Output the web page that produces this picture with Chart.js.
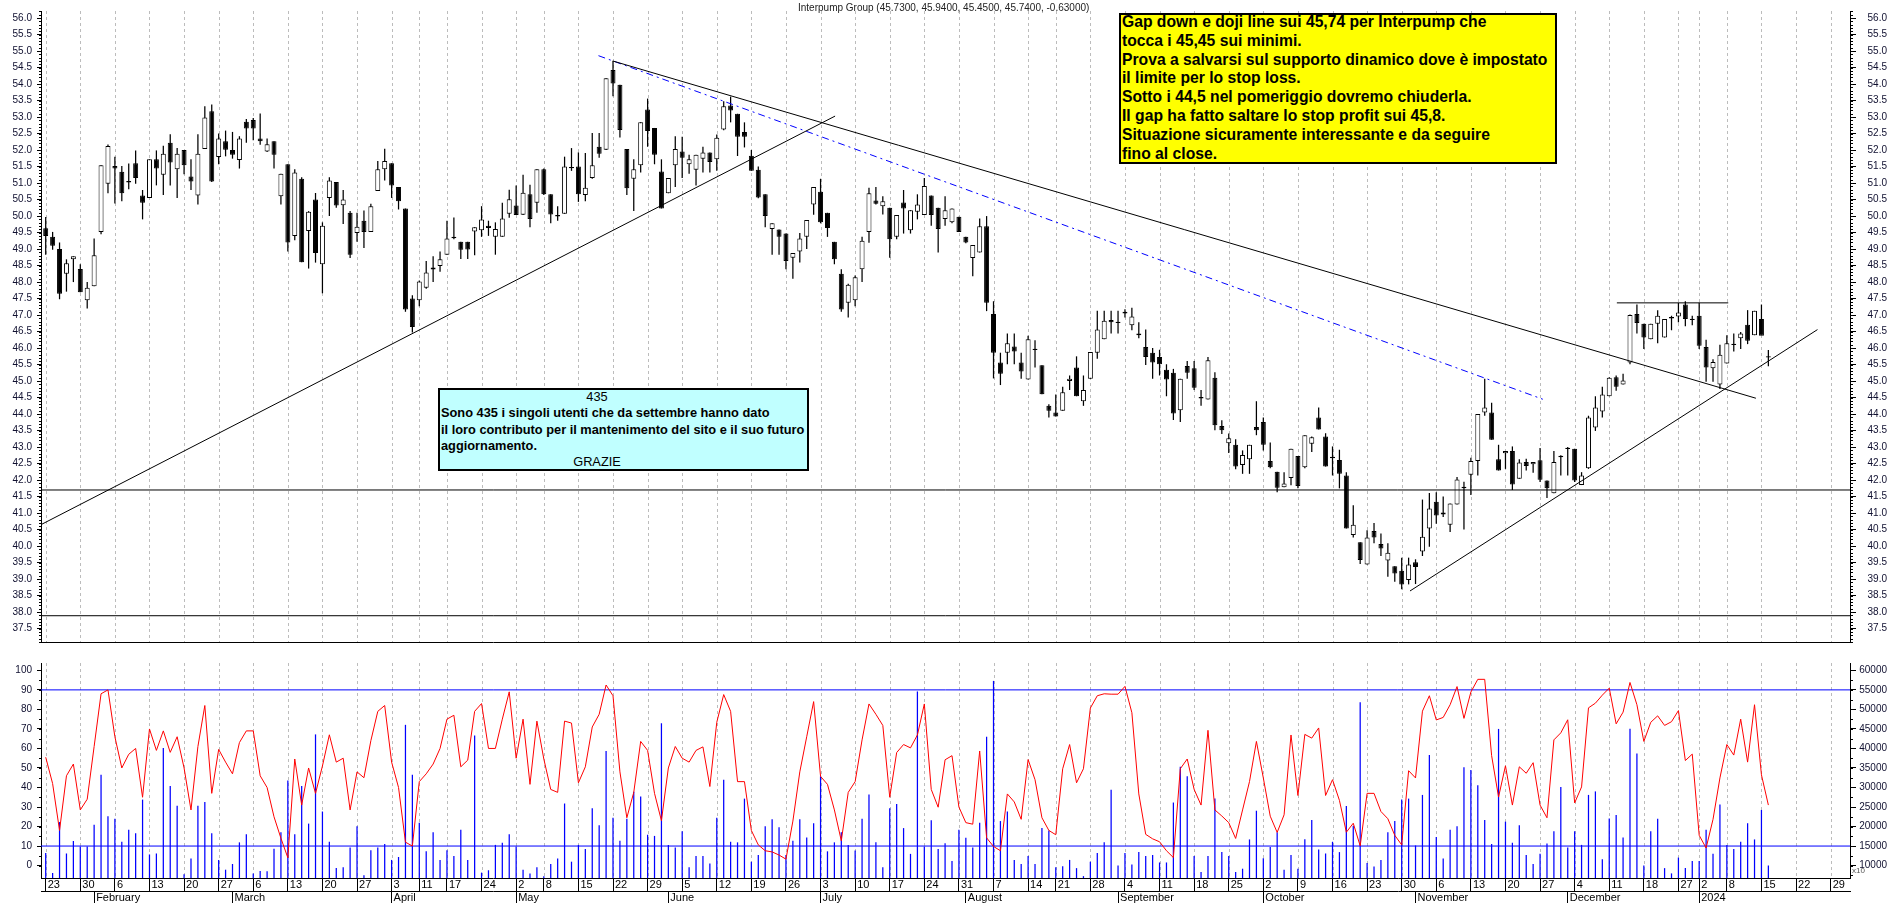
<!DOCTYPE html>
<html>
<head>
<meta charset="utf-8">
<script src="https://cdn.jsdelivr.net/npm/chart.js@4.4.1/dist/chart.umd.min.js"></script>
<style>
html,body{margin:0;padding:0;background:#fff;}
#wrap{position:relative;width:1890px;height:903px;overflow:hidden;background:#fff;font-family:"Liberation Sans",Arial,sans-serif;}
#cA{position:absolute;left:0;top:0;}
#cB{position:absolute;left:0;top:652px;}
#title{position:absolute;left:798px;top:2px;font-size:10px;line-height:12px;color:#222;white-space:nowrap;}
#yellow{position:absolute;left:1119px;top:13px;width:438px;height:151px;box-sizing:border-box;border:2px solid #000;background:#ffff00;overflow:hidden;}
#yellow div{position:relative;top:-2px;padding-left:1px;font-weight:bold;font-size:15.7px;line-height:18.8px;color:#000;white-space:nowrap;}
#cyan{position:absolute;left:438px;top:388px;width:371px;height:83px;box-sizing:border-box;border:2px solid #000;background:#c0ffff;overflow:hidden;}
#cyan .t{position:relative;top:-1px;padding-left:1px;font-size:12.8px;line-height:16.3px;color:#000;white-space:nowrap;}
#cyan .b{font-weight:bold;}
#cyan .c{width:312px;text-align:center;}
#x10{position:absolute;left:1852px;top:866px;font-size:8px;line-height:10px;color:#555;}
</style>
</head>
<body>
<div id="wrap">
<canvas id="cA" width="1890" height="653"></canvas>
<canvas id="cB" width="1890" height="251"></canvas>
<div id="title">Interpump Group (45.7300, 45.9400, 45.4500, 45.7400, -0.63000)</div>
<div id="yellow"><div>Gap down e doji line sui 45,74 per Interpump che<br>tocca i 45,45 sui minimi.<br>Prova a salvarsi sul supporto dinamico dove è impostato<br>il limite per lo stop loss.<br>Sotto i 44,5 nel pomeriggio dovremo chiuderla.<br>Il gap ha fatto saltare lo stop profit sui 45,8.<br>Situazione sicuramente interessante e da seguire<br>fino al close.</div></div>
<div id="cyan"><div class="t"><div class="c">435</div><div class="b">Sono 435 i singoli utenti che da settembre hanno dato</div><div class="b">il loro contributo per il mantenimento del sito e il suo futuro</div><div class="b">aggiornamento.</div><div class="c">GRAZIE</div></div></div>
<div id="x10">x10</div>
</div>
<script>
// ---------------- DATA ----------------
// trading-day index 0 = 23 Jan 2023 ... 249 = 16 Jan 2024
const weekStartIdx = [0,5,10,15,20,25,30,35,40,45,50,54,58,63,68,72,77,82,87,92,97,102,107,112,117,122,127,132,137,142,146,151,156,161,166,171,176,181,186,191,196,201,206,211,216,221,226,231,236,239,243,248,253,258];
const weekLabels = ['23','30','6','13','20','27','6','13','20','27','3','11','17','24','2','8','15','22','29','5','12','19','26','3','10','17','24','31','7','14','21','28','4','11','18','25','2','9','16','23','30','6','13','20','27','4','11','18','27','2','8','15','22','29'];
const monthStartIdx = [7,27,50,68,90,112,133,155,176,198,220,239];
const monthLabels = ['February','March','April','May','June','July','August','September','October','November','December','2024'];

const open = [
49.63,49.37,49.00,48.25,48.69,48.40,47.45,47.87,49.52,50.98,
51.52,51.34,51.03,51.60,50.62,50.55,51.72,51.25,52.22,51.42,
52.00,51.20,50.62,52.03,53.18,51.79,52.27,52.00,51.70,52.86,
52.91,52.35,51.96,52.27,50.60,51.57,49.40,51.13,49.55,50.50,
48.54,50.55,51.03,50.33,50.10,49.49,49.86,49.52,50.76,51.42,
51.60,50.88,50.23,47.50,47.45,47.83,48.38,48.49,48.83,49.35,
49.22,49.22,49.53,49.57,49.71,49.37,49.37,50.07,50.32,50.04,
50.66,50.40,51.42,50.66,50.02,50.07,51.47,51.50,50.64,51.15,
52.10,52.01,54.43,53.98,52.03,51.13,51.54,53.23,52.67,51.35,
50.69,51.54,51.96,51.57,51.40,51.74,51.93,51.72,52.62,53.35,
53.10,52.55,51.83,51.40,50.66,49.61,49.59,49.47,48.74,48.93,
49.37,50.35,50.74,50.10,49.22,48.25,47.37,47.45,48.39,49.52,
50.47,50.30,50.25,49.37,50.41,49.57,50.13,50.03,50.62,50.25,
49.91,49.81,49.98,49.37,48.73,48.90,49.69,47.03,45.56,45.86,
46.05,45.56,45.05,45.95,45.48,44.25,44.05,44.10,45.00,45.41,
44.39,45.07,45.86,46.27,46.85,46.80,47.05,46.69,46.39,46.03,
45.86,45.73,45.34,45.25,44.12,45.46,45.39,44.49,44.44,45.10,
43.64,43.12,43.07,42.46,42.63,43.61,43.76,42.58,42.25,41.78,
42.06,42.73,42.39,43.10,43.90,43.32,42.70,42.61,42.14,40.34,
40.12,39.44,40.46,40.06,39.56,39.39,39.25,38.97,39.51,39.84,
40.53,41.34,41.02,40.65,41.26,41.75,42.16,42.58,44.05,44.05,
42.63,42.81,42.88,42.04,42.55,42.48,42.60,41.99,41.60,42.70,
42.95,42.95,41.85,42.36,43.59,44.08,44.54,45.12,44.90,45.56,
47.03,46.74,46.27,46.74,46.32,46.91,46.96,47.32,46.88,46.98,
46.03,45.39,44.90,45.53,46.10,46.30,46.71,46.39,46.88,45.73];

const high = [
49.97,49.52,49.20,48.69,48.78,48.54,48.00,49.32,51.54,52.17,
51.80,51.52,51.59,51.99,50.79,51.72,51.99,52.13,52.48,52.06,
52.00,51.72,52.48,53.33,53.38,52.50,52.59,52.55,52.42,52.94,
52.97,53.11,52.35,52.27,51.28,51.57,51.42,51.18,50.15,50.70,
49.81,51.18,51.03,50.79,50.15,50.10,50.17,50.37,51.67,52.04,
51.60,50.88,50.23,47.60,48.05,48.64,48.78,48.93,49.86,49.96,
49.22,49.22,49.66,50.30,49.86,49.81,50.40,50.80,50.93,51.25,
50.95,51.42,51.44,50.66,50.30,51.80,52.06,51.93,51.91,52.52,
52.52,54.18,54.70,53.98,52.03,51.72,52.84,53.56,52.67,51.72,
51.15,52.42,52.40,51.86,51.86,52.10,51.93,52.47,53.48,53.62,
53.10,52.84,52.00,51.50,50.66,49.78,49.59,49.47,48.88,49.49,
49.88,50.88,51.13,50.10,49.22,48.39,47.95,48.20,49.37,50.86,
50.88,50.60,50.25,50.03,50.79,50.18,50.66,51.15,50.62,50.25,
50.60,50.23,49.98,49.37,49.12,49.93,50.00,47.42,45.86,46.44,
46.44,45.86,46.37,46.24,45.48,44.30,44.59,44.83,45.17,45.75,
45.17,45.88,47.13,47.13,47.13,47.13,47.18,47.22,46.78,46.56,
46.00,45.95,45.51,45.37,45.07,45.61,45.61,44.73,45.73,45.27,
43.81,43.41,43.24,42.90,43.07,44.39,43.90,43.14,42.25,42.24,
42.95,42.73,43.36,43.32,44.20,43.42,43.02,42.92,42.24,41.24,
40.12,40.48,40.70,40.38,40.09,39.39,39.65,39.65,39.60,41.41,
41.61,41.63,41.50,41.29,42.09,41.95,42.68,44.00,45.07,44.34,
43.07,42.88,43.02,42.63,42.65,42.55,42.97,41.99,42.88,42.75,
43.00,42.95,42.24,43.95,44.54,44.83,45.12,45.17,45.22,47.02,
47.32,46.74,46.74,47.15,46.88,46.98,47.37,47.42,46.98,47.37,
46.25,45.66,46.10,46.39,46.44,46.49,47.15,47.13,47.32,45.94];

const low = [
48.83,48.98,47.48,47.71,48.00,47.69,47.20,47.87,49.45,50.69,
50.38,50.45,50.81,50.98,49.90,50.55,50.93,50.64,50.93,50.55,
51.27,50.79,50.35,52.03,51.03,51.57,51.81,51.74,51.44,52.22,
52.30,52.16,51.94,51.44,50.35,48.93,49.27,48.60,48.41,48.59,
47.66,50.00,50.25,49.76,48.73,49.22,49.03,49.52,50.76,51.08,
50.55,50.20,47.10,46.47,47.27,47.80,48.00,48.31,48.83,49.30,
48.70,48.70,48.81,49.37,49.40,48.83,49.37,49.95,50.03,50.03,
49.66,50.10,50.64,49.78,49.86,50.07,51.37,50.43,50.45,51.13,
51.77,52.00,53.63,52.38,50.64,50.15,51.32,52.10,51.57,50.23,
50.69,50.88,51.15,51.28,50.93,51.32,51.32,51.37,52.60,52.84,
51.82,52.08,51.37,50.54,49.66,48.83,48.83,48.39,48.10,48.59,
49.00,50.04,49.78,49.37,48.54,47.10,46.93,47.27,48.00,49.19,
50.35,50.05,48.74,49.30,49.47,49.47,49.90,50.03,49.71,48.90,
49.71,49.78,49.52,49.18,48.18,48.90,47.12,45.08,44.88,45.51,
45.51,45.07,45.05,45.41,44.60,43.90,43.93,44.10,44.73,44.54,
44.25,45.07,45.68,46.27,46.44,46.44,46.93,46.54,46.30,45.49,
45.07,45.17,44.54,43.82,43.76,45.07,44.73,44.25,44.44,43.51,
43.40,42.82,42.33,42.19,42.19,43.36,42.90,42.36,41.63,41.78,
41.84,41.75,42.36,42.85,43.53,42.41,42.14,41.75,40.53,40.26,
39.46,39.44,40.09,39.70,39.07,38.92,38.69,38.84,38.85,39.70,
39.98,40.68,40.88,40.43,41.26,40.50,41.55,42.14,43.95,43.22,
42.29,42.34,41.70,42.04,42.29,42.22,41.94,41.46,41.60,42.14,
42.14,41.94,41.85,42.34,43.49,43.90,44.54,44.71,44.90,45.51,
46.44,45.97,46.27,46.15,46.32,46.54,46.78,46.66,46.69,45.97,
44.98,44.98,44.76,45.53,45.90,45.97,46.12,46.39,46.41,45.45];

const close = [
49.40,49.10,47.65,48.57,48.78,47.69,47.83,48.81,51.54,52.12,
51.44,50.69,51.05,51.15,50.40,51.72,51.44,51.89,51.62,51.89,
51.54,51.05,51.89,52.99,51.05,52.35,52.01,51.86,52.35,52.65,
52.65,52.27,52.18,51.86,51.28,49.20,51.32,48.60,50.13,48.88,
49.71,51.08,50.32,50.50,48.83,49.68,49.52,50.30,51.42,51.67,
50.93,50.45,47.17,46.64,48.02,48.29,48.44,48.69,49.32,49.35,
48.98,48.99,49.66,49.90,49.64,49.61,49.93,50.51,50.03,50.71,
49.91,51.42,50.66,50.05,50.00,51.50,51.47,50.66,50.86,51.54,
51.89,54.18,54.02,52.61,50.84,51.42,52.84,52.58,51.86,50.23,
51.15,52.03,51.77,51.72,51.86,51.93,51.64,52.37,53.33,53.20,
52.40,52.40,51.37,50.56,50.00,49.78,49.37,48.64,48.88,49.32,
49.88,50.88,49.81,49.64,48.69,47.17,47.92,48.15,49.25,50.69,
50.37,50.45,49.30,50.03,50.23,50.18,50.35,50.91,50.03,49.61,
50.18,50.23,49.52,49.20,49.12,49.69,47.37,45.86,45.22,46.15,
45.90,45.29,46.27,45.97,44.60,44.10,43.93,44.66,45.07,44.54,
44.73,45.88,46.56,46.83,46.78,46.76,47.10,46.96,46.44,45.73,
45.56,45.51,45.05,44.02,45.07,45.25,44.80,44.50,45.63,43.66,
43.51,43.27,42.41,42.76,43.07,43.51,43.07,42.39,41.77,41.90,
42.95,41.82,43.36,43.30,43.53,42.41,42.67,42.19,40.53,40.65,
39.58,40.26,40.26,39.93,39.80,39.17,38.84,39.44,39.37,40.28,
41.14,40.93,40.96,41.29,42.02,41.80,42.58,44.00,44.20,43.22,
42.29,42.88,41.87,42.53,42.43,42.55,42.01,41.75,42.55,42.73,
42.97,41.99,42.14,43.90,44.20,44.59,45.10,44.83,45.02,47.00,
46.76,46.32,46.74,46.98,46.88,46.93,47.08,46.88,46.86,46.07,
45.41,45.58,45.80,46.15,46.12,46.44,46.22,47.13,46.37,45.74];

const oscillator = [
55.5,42,18,46,52,28.5,34,61,88,90,
66,50,57,60,35,70,59,69,58,66,
50,28.5,61,82,37,59.5,53,47,63,69,
69,46,40,25,14,4,54.6,31,50,37,
51,67,53,55,28.5,48,45,64,79,82,
53,40,12,10,43,47,52,60,75,77,
50.6,54,79,83,60,60,75,89,55,75,
41.6,74,54.6,39,37.5,74,73,42.4,50.6,71,
77.5,92.5,87,48,24.5,37.5,63.6,59,37,23,
50,61,55,53,59,60.8,40.5,73.4,87.6,79,
43,43,18,10.6,7.6,7,5.4,3.3,22.8,48,
66,84,45.7,41.6,28.5,12.7,37.5,43,64.4,82.8,
77.5,71.8,35,57.9,62,60.3,66.9,82.8,39,29.9,
54.2,56.3,30,22,21.2,58.7,14.2,9.8,7.6,36.7,
32.6,23.7,54.3,44,24.5,18,15.8,49.6,62,42.4,
49.6,80.7,87,88,87.8,87.8,91.8,78.3,36.7,16,
13.7,12.2,7.6,4.1,49.6,54.6,39,31,69.3,28.5,
25.4,22,13.9,28.5,43,63.6,44.9,25.3,17,26,
66.9,35.9,67.2,65.3,70.5,35.9,44,33.4,17.1,21.7,
10.1,37,37,27.7,24,15.5,10.6,48.6,44.9,79.1,
87,74.6,75.9,82.4,91.7,75.4,88.9,95.4,95.4,56.3,
35.1,51.1,31,50.6,47.3,52.7,31,24.5,64.4,68,
74.7,32.1,40.3,80.8,83.2,87.3,90.9,72.6,78.6,93.8,
82.4,63.6,73.4,76.7,71.8,73.7,79.4,53.8,57.1,15.5,
9,23.7,44.9,62,56.6,75,53,82.4,46.5,31];

const volume = [
13250,8100,21150,13100,16300,14900,14900,20450,33250,22650,
22000,16100,19200,18300,26900,12850,13100,40100,30400,25350,
7800,11800,25350,26300,18300,11400,8950,10400,15950,18000,
7950,8600,8550,14300,18550,31800,18000,30400,20750,43600,
23850,16100,9350,9600,14650,20050,7550,13900,14650,15550,
11450,12200,46050,33250,21000,13650,18550,11450,13900,12450,
19200,11450,43300,8200,8800,15300,15850,18000,14900,8950,
7950,9600,7300,10400,11800,25900,11000,15300,14250,24700,
20350,39350,22250,16350,22000,28900,27700,17900,17600,46450,
15300,14650,18800,9600,12450,12450,10550,22250,32000,16100,
15950,27150,11000,12700,20050,21850,19800,12700,16350,21850,
17200,20850,32850,13650,15950,18550,15300,13850,22000,28200,
15950,9600,24700,25750,19600,13000,54600,14900,21600,14250,
15700,11200,19150,17100,14650,21000,43000,57300,21400,23850,
11450,10400,12450,10400,19600,19000,9600,9850,11450,9350,
7300,11000,13250,15950,29400,10000,13250,10250,13450,12450,
12700,10800,10800,26150,35300,32850,12450,8350,12450,27150,
13500,12450,8350,9200,16700,24050,11900,14750,18550,8950,
12700,9200,16750,21650,14100,13100,16100,13450,25250,20200,
51850,10650,9750,11450,18550,21400,26900,27150,15150,28100,
38300,17350,11800,19200,20050,35200,34450,30550,21650,15550,
45000,21250,15850,20300,12700,10400,13000,15650,18800,30150,
14650,18800,15300,28100,29000,11650,22050,22950,17200,45050,
38700,10000,18800,22000,9350,8000,12050,9350,11200,11200,
19150,13000,25650,15300,14250,16100,20850,16700,24250,10000];

// tick labels
const priceTicks = []; for (let k = 75; k <= 112; k++) priceTicks.push(k / 2);   // 37.5 .. 56.0
const oscTicks = [0,10,20,30,40,50,60,70,80,90,100];
const volTicks = [10000,15000,20000,25000,30000,35000,40000,45000,50000,55000,60000];

// drawn studies: [index, price] end points
const supportLine1   = [[-0.68, 40.65], [114.1, 53.03]];
const resistanceLine = [[81.96, 54.70], [247.2, 44.48]];
const blueTrendLine  = [[79.9, 54.86], [216.4, 44.45]];
const supportLine2   = [[197.2, 38.64], [256.1, 46.56]];
const topLine        = [[227.1, 47.37], [243.2, 47.37]];
const priceLevels    = [41.70, 37.89];
const oscLevels      = [90, 10];

// ---------------- CHARTS ----------------
Chart.defaults.font.family = '"Liberation Sans", Arial, sans-serif';
const X_MIN = -0.68, X_MAX = 260.8;
const pts = arr => arr.map(p => ({x: p[0], y: p[1]}));
const full = v => [{x: X_MIN, y: v}, {x: X_MAX, y: v}];

const weekGrid = {
  id: 'weekGrid',
  beforeDatasetsDraw(chart) {
    const {ctx, chartArea: a} = chart; const x = chart.scales.x;
    ctx.save();
    ctx.strokeStyle = '#bcbcbc'; ctx.lineWidth = 1; ctx.setLineDash([3, 3]);
    weekStartIdx.forEach(i => {
      const px = Math.round(x.getPixelForValue(i)) + 0.5;
      if (px < a.left || px > a.right) return;
      ctx.beginPath(); ctx.moveTo(px, a.top); ctx.lineTo(px, a.bottom); ctx.stroke();
    });
    ctx.restore();
  }
};
const axisDecor = {
  id: 'axisDecor',
  afterDraw(chart, args, opts) {
    const {ctx, chartArea: a} = chart;
    ctx.save(); ctx.strokeStyle = '#000'; ctx.lineWidth = 1; ctx.setLineDash([]);
    (opts.minor || []).forEach(m => {
      const s = chart.scales[m.id];
      for (let k = m.from; k <= m.to; k++) {
        const y = Math.round(s.getPixelForValue(k * m.step)) + 0.5;
        if (y < a.top || y > a.bottom + 1) continue;
        ctx.beginPath();
        if (m.side === 'left') { ctx.moveTo(s.right - m.len, y); ctx.lineTo(s.right, y); }
        else { ctx.moveTo(s.left, y); ctx.lineTo(s.left + m.len, y); }
        ctx.stroke();
      }
    });
    if (opts.bottomLine) {
      const y = a.bottom + 0.5;
      ctx.beginPath(); ctx.moveTo(a.left, y); ctx.lineTo(a.right + 1, y); ctx.stroke();
    }
    ctx.restore();
  }
};

const yAxisCommon = (pos, min, max, ticks, fmt, width, tl) => ({
  position: pos, min: min, max: max,
  afterBuildTicks: s => { s.ticks = ticks.map(v => ({value: v})); },
  afterFit: s => { s.width = width; },
  grid: {drawOnChartArea: false, drawTicks: true, tickLength: tl, color: '#000'},
  border: {display: true, color: '#000', width: 1},
  ticks: {autoSkip: false, padding: pos === 'left' ? 5 : 4, crossAlign: pos === 'left' ? 'near' : 'far',
          color: '#101030', font: {size: 10}, callback: fmt}
});

// bodies / wicks
const bodyData = open.map((o, i) => {
  let lo = Math.min(o, close[i]), hi = Math.max(o, close[i]);
  if (hi - lo < 0.04) { const m = (hi + lo) / 2; lo = m - 0.02; hi = m + 0.02; }
  return {x: i, y: [lo, hi]};
});
const wickData = high.map((h, i) => ({x: i, y: [low[i], h]}));

const lineDs = (data, color, dash) => ({
  type: 'line', data: data, borderColor: color, borderWidth: 1, borderDash: dash || [],
  pointRadius: 0, fill: false, tension: 0, order: -1, yAxisID: 'y'
});

new Chart(document.getElementById('cA'), {
  type: 'bar',
  data: {
    datasets: [
      {data: bodyData, order: 0, grouped: false, barThickness: 5, borderWidth: 1, borderColor: '#000',
       borderSkipped: false, inflateAmount: 0,
       backgroundColor: c => (close[c.dataIndex] >= open[c.dataIndex] ? '#ffffff' : '#000000'), yAxisID: 'y'},
      {data: wickData, order: 1, grouped: false, barThickness: 1.25, borderWidth: 0, inflateAmount: 0,
       backgroundColor: '#000000', yAxisID: 'y'},
      lineDs(pts(supportLine1), '#000'),
      lineDs(pts(resistanceLine), '#000'),
      lineDs(pts(blueTrendLine), '#0000ff', [7, 4, 2, 4]),
      lineDs(pts(supportLine2), '#000'),
      lineDs(pts(topLine), '#000'),
      lineDs(full(priceLevels[0]), '#000'),
      lineDs(full(priceLevels[1]), '#000')
    ]
  },
  options: {
    responsive: false, animation: false, devicePixelRatio: 1, events: [],
    layout: {padding: {left: 0, right: 3, top: 0, bottom: 1}},
    plugins: {legend: {display: false}, tooltip: {enabled: false},
      axisDecor: {bottomLine: true, minor: [
        {id: 'y', from: 371, to: 562, step: 0.1, len: 2, side: 'left'},
        {id: 'yR', from: 371, to: 562, step: 0.1, len: 3, side: 'right'}]}},
    scales: {
      x: {type: 'linear', display: false, min: X_MIN, max: X_MAX, offset: false, grid: {offset: false}},
      y: yAxisCommon('left', 37.094, 56.214, priceTicks, v => v.toFixed(1), 41, 4),
      yR: yAxisCommon('right', 37.094, 56.214, priceTicks, v => v.toFixed(1), 37, 6)
    }
  },
  plugins: [weekGrid, axisDecor]
});

new Chart(document.getElementById('cB'), {
  type: 'bar',
  data: {
    datasets: [
      {type: 'line', data: oscillator.map((v, i) => ({x: i, y: v})), borderColor: '#ff0000', borderWidth: 1,
       pointRadius: 0, fill: false, tension: 0, order: 0, yAxisID: 'yOsc'},
      {type: 'line', data: full(oscLevels[0]), borderColor: '#0000ff', borderWidth: 1, pointRadius: 0, order: 1, yAxisID: 'yOsc'},
      {type: 'line', data: full(oscLevels[1]), borderColor: '#0000ff', borderWidth: 1, pointRadius: 0, order: 1, yAxisID: 'yOsc'},
      {data: volume.map((v, i) => ({x: i, y: v})), order: 2, grouped: false, barThickness: 1.25, borderWidth: 0,
       inflateAmount: 0, backgroundColor: '#0000ff', yAxisID: 'yVol'}
    ]
  },
  options: {
    responsive: false, animation: false, devicePixelRatio: 1, events: [],
    layout: {padding: {left: 0, right: 3, top: 1, bottom: 0}},
    plugins: {legend: {display: false}, tooltip: {enabled: false},
      axisDecor: {minor: [
        {id: 'yOsc', from: 0, to: 20, step: 5, len: 2, side: 'left'},
        {id: 'yVol', from: 3, to: 24, step: 2500, len: 3, side: 'right'}]}},
    scales: {
      x: {type: 'linear', position: 'bottom', min: X_MIN, max: X_MAX, offset: false, weight: 0,
          afterBuildTicks: s => { s.ticks = weekStartIdx.map(v => ({value: v})); },
          afterFit: s => { s.height = 13; },
          grid: {drawOnChartArea: false, drawTicks: true, tickLength: 13, color: '#000', offset: false},
          border: {display: true, color: '#000'},
          ticks: {autoSkip: false, maxRotation: 0, minRotation: 0, align: 'start', labelOffset: 2, padding: -13,
                  color: '#000', font: {size: 11}, callback: (v, idx) => weekLabels[idx]}},
      x2: {type: 'linear', position: 'bottom', min: X_MIN, max: X_MAX, offset: false, weight: 1,
          afterBuildTicks: s => { s.ticks = monthStartIdx.map(v => ({value: v})); },
          afterFit: s => { s.height = 12; },
          grid: {drawOnChartArea: false, drawTicks: true, tickLength: 12, color: '#000', offset: false},
          border: {display: true, color: '#000'},
          ticks: {autoSkip: false, maxRotation: 0, minRotation: 0, align: 'start', labelOffset: 2, padding: -12,
                  color: '#000', font: {size: 11}, callback: (v, idx) => monthLabels[idx]}},
      yOsc: yAxisCommon('left', -6.36, 103.77, oscTicks, v => String(v), 41, 4),
      yVol: yAxisCommon('right', 6820, 61885, volTicks, v => String(v), 37, 6)
    }
  },
  plugins: [weekGrid, axisDecor]
});
</script>
</body>
</html>
